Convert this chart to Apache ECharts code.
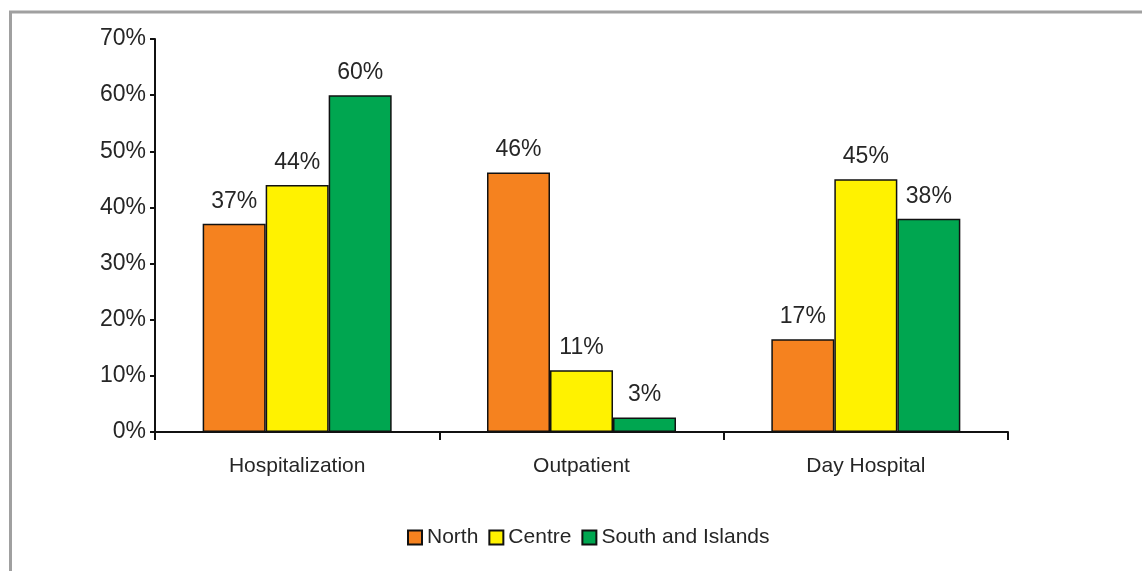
<!DOCTYPE html>
<html>
<head>
<meta charset="utf-8">
<style>
  html, body { margin: 0; padding: 0; background: #fff; }
  #chart { width: 1142px; height: 571px; }
</style>
<script src="https://cdn.jsdelivr.net/npm/echarts@6/dist/echarts.min.js"></script>
</head>
<body>
<div id="chart"></div>
<script>
const categories = ['Hospitalization', 'Outpatient', 'Day Hospital'];
const seriesNames = ['North', 'Centre', 'South and Islands'];
const north = [37.1, 46.2, 16.5];
const centre = [44, 11, 45];
const south = [60, 2.6, 38];
const yTicks = [0, 10, 20, 30, 40, 50, 60, 70];

const colors = ['#F5821F', '#FFF200', '#00A650'];
const textColor = '#262626';
const font = '"Liberation Sans", Arial, sans-serif';

const chart = echarts.init(document.getElementById('chart'), null, { renderer: 'canvas' });

const makeSeries = (name, data, color) => ({
  name,
  type: 'bar',
  data,
  barWidth: 63,
  barGap: '0%',
  itemStyle: { color, borderColor: '#111', borderWidth: 1.5 },
  label: {
    show: true,
    position: 'top',
    distance: 11,
    color: textColor,
    fontFamily: font,
    fontSize: 23,
    formatter: (p) => Math.round(p.value) + '%',
  },
});

chart.setOption({
  backgroundColor: '#fff',
  animation: false,
  textStyle: { fontFamily: font, color: textColor },
  // grey frame, only its left and top edges fall inside the picture
  graphic: [{
    type: 'rect',
    shape: { x: 10.5, y: 12, width: 1300, height: 700 },
    style: { fill: 'none', stroke: '#a0a0a0', lineWidth: 3 },
    silent: true,
  }],
  grid: { left: 155, right: 134, top: 39, bottom: 139 },
  legend: {
    data: seriesNames,
    left: 402,
    top: 522,
    itemWidth: 14,
    itemHeight: 14,
    itemGap: 10,
    icon: 'rect',
    textStyle: { color: textColor, fontSize: 21, fontFamily: font },
  },
  xAxis: {
    type: 'category',
    data: categories,
    axisLine: { lineStyle: { color: '#111', width: 2 } },
    axisTick: { show: true, length: 8, lineStyle: { color: '#111', width: 2 } },
    axisLabel: { color: textColor, fontSize: 21, margin: 24, fontFamily: font },
  },
  yAxis: {
    type: 'value',
    min: yTicks[0],
    max: yTicks[yTicks.length - 1],
    interval: 10,
    axisLine: { show: true, lineStyle: { color: '#111', width: 2 } },
    axisTick: { show: true, length: 5, lineStyle: { color: '#111', width: 2 } },
    axisLabel: { color: textColor, fontSize: 23, margin: 9, fontFamily: font, formatter: '{value}%' },
    splitLine: { show: false },
  },
  series: [
    makeSeries(seriesNames[0], north, colors[0]),
    makeSeries(seriesNames[1], centre, colors[1]),
    makeSeries(seriesNames[2], south, colors[2]),
  ],
});
</script>
</body>
</html>
